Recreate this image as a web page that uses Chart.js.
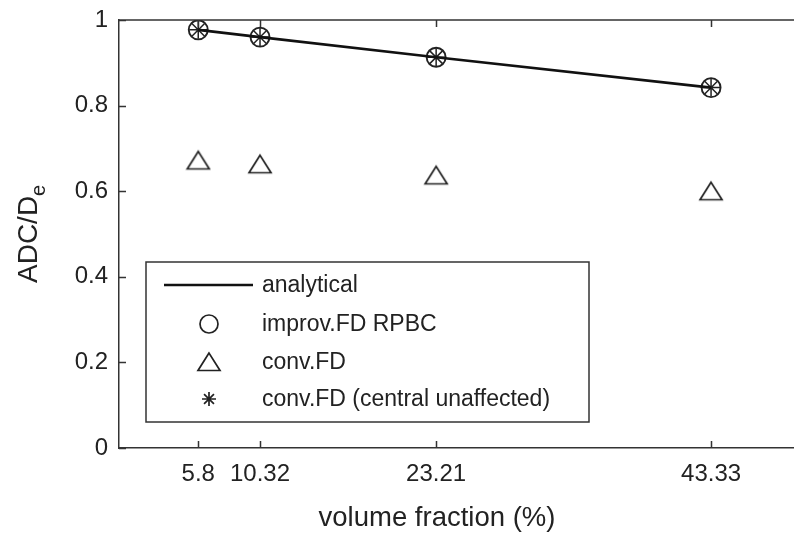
<!DOCTYPE html>
<html>
<head>
<meta charset="utf-8">
<script src="https://cdn.jsdelivr.net/npm/chart.js@4/dist/chart.umd.min.js"></script>
<style>
  html, body { margin: 0; padding: 0; background: #fff; overflow: hidden; }
  #adcChart { display: block; }
</style>
</head>
<body>
<canvas id="adcChart" width="794" height="533"></canvas>
<script>
// volume fraction (%) at which the runs were done
const volumeFractions = [5.8, 10.32, 23.21, 43.33];
// ADC/De values
const analyticalValues = [0.977, 0.960, 0.913, 0.842];
const improvFdValues   = [0.977, 0.960, 0.913, 0.842];
const convFdValues     = [0.672, 0.663, 0.637, 0.600];
const centralValues    = [0.977, 0.960, 0.913, 0.842];
const xTickValues = [5.8, 10.32, 23.21, 43.33];
const yTickValues = [0, 0.2, 0.4, 0.6, 0.8, 1];
const seriesLabels = ['analytical', 'improv.FD RPBC', 'conv.FD', 'conv.FD (central unaffected)'];

const INK = '#222';
const FONT = '"Liberation Sans", Arial, Helvetica, sans-serif';

// open triangle marker, centred on its bounding box like matlab does
const triMarker = document.createElement('canvas');
triMarker.width = 26; triMarker.height = 22;
(function(){
  const c = triMarker.getContext('2d');
  c.strokeStyle = INK; c.lineWidth = 1.7;
  c.beginPath();
  c.moveTo(13, 2); c.lineTo(2, 19.5); c.lineTo(24, 19.5); c.closePath();
  c.stroke();
})();

function toPoints(ys) { return volumeFractions.map((x, i) => ({ x: x, y: ys[i] })); }

function noPad(scale) {
  scale.paddingLeft = 0; scale.paddingRight = 0;
  scale.paddingTop = 0; scale.paddingBottom = 0;
}

// inward tick marks + top border (matlab box style), axis titles
const boxTicksPlugin = {
  id: 'boxTicks',
  afterDraw(chart) {
    const ctx = chart.ctx, a = chart.chartArea;
    const xs = chart.scales.x, ys = chart.scales.y;
    ctx.save();
    ctx.strokeStyle = '#333'; ctx.lineWidth = 1.5;
    ctx.beginPath();
    ctx.moveTo(a.left, a.top); ctx.lineTo(a.right, a.top);
    xTickValues.forEach(v => {
      const px = Math.round(xs.getPixelForValue(v)) + 0.5;
      ctx.moveTo(px, a.bottom); ctx.lineTo(px, a.bottom - 7);
      ctx.moveTo(px, a.top); ctx.lineTo(px, a.top + 7);
    });
    yTickValues.forEach(v => {
      const py = Math.round(ys.getPixelForValue(v)) + 0.5;
      ctx.moveTo(a.left, py); ctx.lineTo(a.left + 7, py);
    });
    ctx.stroke();

    ctx.fillStyle = INK;
    ctx.font = '27.5px ' + FONT;
    ctx.textAlign = 'center';
    ctx.textBaseline = 'alphabetic';
    ctx.fillText('volume fraction (%)', 437, 526);

    // y axis title with subscript e
    ctx.translate(37, 283);
    ctx.rotate(-Math.PI / 2);
    ctx.font = '28px ' + FONT;
    ctx.textAlign = 'left';
    ctx.fillText('ADC/D', 0, 0);
    const w = ctx.measureText('ADC/D').width;
    ctx.font = '20px ' + FONT;
    ctx.fillText('e', w, 8);
    ctx.restore();
  }
};

// legend box in the lower left of the axes
const boxLegendPlugin = {
  id: 'boxLegend',
  afterDraw(chart) {
    const ctx = chart.ctx;
    const L = 146, T = 262, R = 589, B = 422;
    const rows = [285, 324, 362, 399];
    const mx = 209, tx = 262;
    ctx.save();
    ctx.fillStyle = '#fff';
    ctx.fillRect(L, T, R - L, B - T);
    ctx.strokeStyle = '#333'; ctx.lineWidth = 1.5;
    ctx.strokeRect(L, T, R - L, B - T);

    ctx.strokeStyle = '#111'; ctx.lineWidth = 2.7;
    ctx.beginPath(); ctx.moveTo(164, rows[0]); ctx.lineTo(253, rows[0]); ctx.stroke();

    ctx.strokeStyle = INK; ctx.lineWidth = 1.7;
    ctx.beginPath(); ctx.arc(mx, rows[1], 9, 0, Math.PI * 2); ctx.stroke();

    ctx.drawImage(triMarker, mx - 13, rows[2] - 11);

    ctx.beginPath();
    for (let k = 0; k < 4; k++) {
      const ang = k * Math.PI / 4, r = 7;
      ctx.moveTo(mx - Math.cos(ang) * r, rows[3] - Math.sin(ang) * r);
      ctx.lineTo(mx + Math.cos(ang) * r, rows[3] + Math.sin(ang) * r);
    }
    ctx.stroke();

    ctx.fillStyle = INK;
    ctx.font = '23px ' + FONT;
    ctx.textBaseline = 'middle';
    ctx.textAlign = 'left';
    seriesLabels.forEach((s, i) => ctx.fillText(s, tx, rows[i] + 1));
    ctx.restore();
  }
};

const adcCtx = document.getElementById('adcChart').getContext('2d');
new Chart(adcCtx, {
  type: 'scatter',
  plugins: [boxTicksPlugin, boxLegendPlugin],
  data: {
    datasets: [
      {
        label: seriesLabels[0],
        data: toPoints(analyticalValues),
        showLine: true,
        borderColor: '#111',
        borderWidth: 2.7,
        pointRadius: 0,
        tension: 0
      },
      {
        label: seriesLabels[1],
        data: toPoints(improvFdValues),
        showLine: false,
        pointStyle: 'circle',
        pointRadius: 9.5,
        pointBorderWidth: 1.9,
        pointBorderColor: INK,
        pointBackgroundColor: 'rgba(0,0,0,0)'
      },
      {
        label: seriesLabels[2],
        data: toPoints(convFdValues),
        showLine: false,
        pointStyle: triMarker,
        pointRadius: 11
      },
      {
        label: seriesLabels[3],
        data: toPoints(centralValues),
        showLine: false,
        pointStyle: 'star',
        pointRadius: 9,
        pointBorderWidth: 1.5,
        pointBorderColor: INK,
        pointBackgroundColor: INK
      }
    ]
  },
  options: {
    responsive: false,
    animation: false,
    layout: { autoPadding: false, padding: { top: 20, right: 0, left: 0, bottom: 0 } },
    plugins: {
      legend: { display: false },
      tooltip: { enabled: false }
    },
    scales: {
      x: {
        type: 'linear',
        min: 0,
        max: 49.4,
        afterBuildTicks: scale => { scale.ticks = xTickValues.map(v => ({ value: v })); },
        afterFit: scale => { scale.height = 85; noPad(scale); },
        grid: { display: false, drawTicks: false },
        border: { display: true, color: '#333', width: 1.5 },
        ticks: {
          color: INK,
          font: { family: FONT, size: 24 },
          padding: 12,
          maxRotation: 0,
          autoSkip: false,
          callback: v => String(v)
        },
        title: { display: false }
      },
      y: {
        min: 0,
        max: 1,
        afterBuildTicks: scale => { scale.ticks = yTickValues.map(v => ({ value: v })); },
        afterFit: scale => { scale.width = 119; noPad(scale); },
        grid: { display: false, drawTicks: false },
        border: { display: true, color: '#333', width: 1.5 },
        ticks: {
          color: INK,
          font: { family: FONT, size: 24 },
          padding: 11,
          callback: v => String(+Number(v).toFixed(1))
        }
      }
    }
  }
});
</script>
</body>
</html>
